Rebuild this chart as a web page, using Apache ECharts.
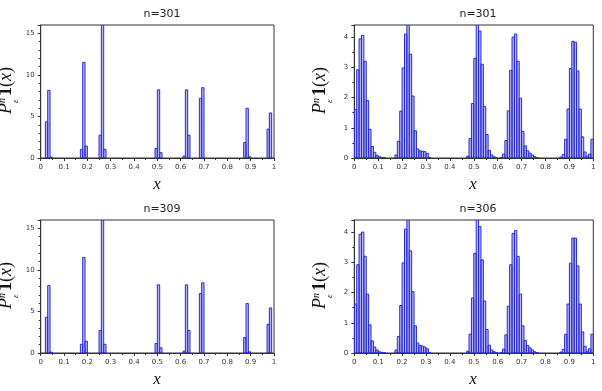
<!DOCTYPE html>
<html><head><meta charset="utf-8">
<script src="https://cdn.jsdelivr.net/npm/echarts@6/dist/echarts.min.js"></script>
<style>html,body{margin:0;padding:0;background:#fff}#c{width:602px;height:391px}</style>
</head><body><div id="c"></div>
<script>
const binWidth = 0.01;
const titles = ['n=301', 'n=301', 'n=309', 'n=306'];
const xTickLabels = ['0','0.1','0.2','0.3','0.4','0.5','0.6','0.7','0.8','0.9','1'];
const yTicksLeft = [0, 5, 10, 15];
const yTicksRight = [0, 1, 2, 3, 4];

// histogram heights, 100 bins of width 0.01 on [0,1]
const countsTL = [
  0,0,4.35,8.14,0.1,0,0,0,0,0,
  0,0,0,0,0,0,0,1.04,11.5,1.44,
  0,0,0,0,0,2.75,17,1.04,0,0,
  0,0,0,0,0,0,0,0,0,0,
  0,0,0,0,0,0,0,0,0,1.16,
  8.2,0.64,0,0,0,0,0,0,0,0,
  0,0.24,8.2,2.75,0,0,0,0,7.18,8.46,
  0,0,0,0,0,0,0,0,0,0,
  0,0,0,0,0,0,0,1.87,5.98,0.15,
  0,0,0,0,0,0,0,3.47,5.42,0
];
const countsTR = [
  1.6,2.92,3.94,4.06,3.2,1.9,0.95,0.38,0.19,0.09,
  0.04,0.02,0.01,0,0,0,0,0.1,0.55,1.55,
  2.98,4.1,4.5,3.43,2.05,0.9,0.3,0.24,0.22,0.21,
  0.15,0.02,0,0,0,0,0,0,0,0,
  0,0,0,0,0,0,0,0.06,0.64,1.8,
  3.3,4.5,4.2,3.1,1.7,0.78,0.25,0.1,0.04,0.01,
  0,0.02,0.13,0.58,1.56,2.9,4.0,4.1,3.2,1.98,
  0.88,0.4,0.24,0.16,0.1,0.04,0.01,0,0,0,
  0,0,0,0,0,0,0.03,0.12,0.62,1.62,
  2.96,3.86,3.83,2.88,1.62,0.7,0.2,0.06,0.13,0.62
];
const countsBL = [
  0,0,4.3,8.12,0.1,0,0,0,0,0,
  0,0,0,0,0,0,0,1.05,11.5,1.42,
  0,0,0,0,0,2.72,17,1.05,0,0,
  0,0,0,0,0,0,0,0,0,0,
  0,0,0,0,0,0,0,0,0,1.15,
  8.2,0.62,0,0,0,0,0,0,0,0,
  0,0.22,8.2,2.72,0,0,0,0,7.15,8.45,
  0,0,0,0,0,0,0,0,0,0,
  0,0,0,0,0,0,0,1.86,5.96,0.14,
  0,0,0,0,0,0,0,3.45,5.42,0
];
const countsBR = [
  1.62,2.92,3.93,4.0,3.2,1.95,0.93,0.4,0.2,0.1,
  0.04,0.02,0.01,0,0,0,0,0.1,0.55,1.57,
  2.98,4.1,4.5,3.38,2.03,0.9,0.33,0.25,0.23,0.2,
  0.14,0.02,0,0,0,0,0,0,0,0,
  0,0,0,0,0,0,0,0.06,0.62,1.82,
  3.3,4.5,4.18,3.08,1.72,0.78,0.26,0.1,0.04,0.01,
  0,0.02,0.13,0.6,1.55,2.92,3.95,4.05,3.2,1.95,
  0.9,0.42,0.25,0.17,0.1,0.04,0.01,0,0,0,
  0,0,0,0,0,0,0.03,0.12,0.62,1.62,
  2.97,3.8,3.8,2.88,1.62,0.7,0.22,0.06,0.14,0.62
];
const allCounts = [countsTL, countsTR, countsBL, countsBR];

const grids = [
  {left: 40.7, top: 25, width: 233.3, height: 133},
  {left: 354.3, top: 25, width: 239, height: 133},
  {left: 40.7, top: 220, width: 233.3, height: 133},
  {left: 354.3, top: 220, width: 239, height: 133}
];
const isLeft = [true, false, true, false];
const axisColor = '#333';
const labelFont = 'DejaVu Sans, sans-serif';

function makeSeries(counts, idx) {
  const data = [];
  counts.forEach((v, i) => { if (v > 0) data.push([i * binWidth, (i + 1) * binWidth, v]); });
  return {
    type: 'custom', xAxisIndex: idx, yAxisIndex: idx, clip: true, data,
    encode: {x: [0, 1], y: 2},
    renderItem: (params, api) => {
      const a = api.coord([api.value(0), api.value(2)]);
      const b = api.coord([api.value(1), 0]);
      return {type: 'rect', shape: {x: a[0], y: a[1], width: b[0] - a[0], height: b[1] - a[1]},
        style: {fill: 'rgba(95,95,245,0.45)', stroke: '#2a2ad2', lineWidth: 1}};
    }
  };
}

const xAxes = grids.map((g, i) => ({
  type: 'value', gridIndex: i, min: 0, max: 1, interval: 0.1,
  axisLine: {show: true, lineStyle: {color: axisColor, width: 1}},
  axisTick: {show: true, length: 3, lineStyle: {color: axisColor}},
  minorTick: {show: true, splitNumber: 2, length: 2, lineStyle: {color: axisColor}},
  splitLine: {show: false},
  axisLabel: {fontSize: 7, color: '#333', margin: 6, fontFamily: labelFont,
    formatter: v => xTickLabels[Math.round(v * 10)]}
}));
const yAxes = grids.map((g, i) => {
  const left = isLeft[i];
  const ticks = left ? yTicksLeft : yTicksRight;
  return {
    type: 'value', gridIndex: i, min: 0, max: left ? 16 : 4.4,
    interval: ticks[1] - ticks[0],
    axisLine: {show: true, lineStyle: {color: axisColor, width: 1}},
    axisTick: {show: true, length: 3, lineStyle: {color: axisColor}},
    minorTick: {show: true, splitNumber: left ? 5 : 2, length: 2, lineStyle: {color: axisColor}},
    splitLine: {show: false},
    axisLabel: {fontSize: 7, color: '#333', margin: 6, fontFamily: labelFont, showMaxLabel: false,
      formatter: v => (ticks.indexOf(v) >= 0 ? String(v) : '')}
  };
});

const titleCenters = [[157, 4], [473, 4], [157, 199], [473, 199]];
const yLabelPos = [[15, 114], [329, 114], [15, 309], [329, 309]];
const xLabelPos = [[157, 185], [473, 185], [157, 380], [473, 380]];

const graphics = [];
yLabelPos.forEach(p => {
  graphics.push({
    type: 'group', x: p[0], y: p[1], rotation: Math.PI / 2,
    children: [
      {type: 'text', x: 0, y: 0, style: {text: 'P', font: 'italic 18px "Liberation Serif", serif', fill: '#111', verticalAlign: 'bottom'}},
      {type: 'text', x: 11, y: -8, style: {text: 'n', font: 'italic 10px "Liberation Serif", serif', fill: '#111', verticalAlign: 'bottom'}},
      {type: 'text', x: 11, y: 5, style: {text: 'ε', font: 'italic 9px "Liberation Serif", serif', fill: '#111', verticalAlign: 'bottom'}},
      {type: 'text', x: 18, y: 0, style: {text: '1', font: 'bold 18px "Liberation Serif", serif', fill: '#111', verticalAlign: 'bottom'}},
      {type: 'text', x: 27, y: 0, style: {
        text: '{a|(}{b|x}{a|)}', verticalAlign: 'bottom', fill: '#111',
        rich: {a: {font: '18px "Liberation Serif", serif', fill: '#111'}, b: {font: 'italic 18px "Liberation Serif", serif', fill: '#111'}}
      }}
    ]
  });
});
xLabelPos.forEach(p => {
  graphics.push({type: 'text', x: p[0], y: p[1], style: {text: 'x', font: 'italic 17px "Liberation Serif", serif', fill: '#111', align: 'center', verticalAlign: 'middle'}});
});

const chart = echarts.init(document.getElementById('c'), null, {renderer: 'canvas'});
chart.setOption({
  animation: false,
  backgroundColor: '#fff',
  title: titles.map((t, i) => ({text: t, left: titleCenters[i][0], top: titleCenters[i][1], textAlign: 'center',
    textStyle: {fontSize: 11, fontWeight: 'normal', color: '#222', fontFamily: labelFont}})),
  grid: grids.map(g => Object.assign({show: true, borderColor: axisColor, borderWidth: 1, backgroundColor: 'transparent'}, g)),
  xAxis: xAxes,
  yAxis: yAxes,
  series: allCounts.map((c, i) => makeSeries(c, i)),
  graphic: graphics
});
</script></body></html>
